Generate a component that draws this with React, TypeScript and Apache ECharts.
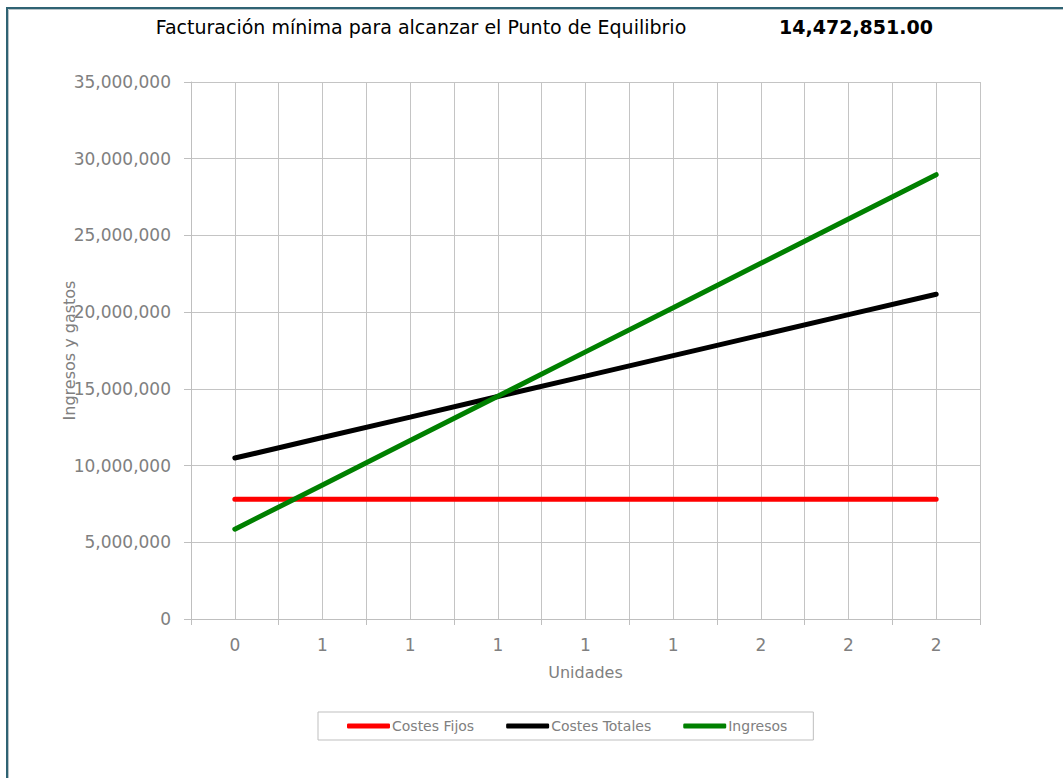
import React, { useEffect, useRef } from "react";
import * as echarts from "echarts";

const categories = ["0", "1", "1", "1", "1", "1", "2", "2", "2"];
const costesFijos = [7800000, 7800000, 7800000, 7800000, 7800000, 7800000, 7800000, 7800000, 7800000];
const costesTotales = [10490000, 11830000, 13160000, 14500000, 15830000, 17170000, 18500000, 19840000, 21170000];
const ingresos = [5850000, 8740000, 11630000, 14520000, 17410000, 20290000, 23180000, 26070000, 28960000];
const titleText = "Facturación mínima para alcanzar el Punto de Equilibrio";
const breakEvenText = "14,472,851.00";

const FONT = "'DejaVu Sans', sans-serif";
const GRAY = "#808080";
const GRID = "#c4c4c4";

function fmt(v: number) {
  return String(v).replace(/\B(?=(\d{3})+(?!\d))/g, ",");
}

export default function App() {
  const ref = useRef<HTMLDivElement>(null);
  useEffect(() => {
    if (!ref.current) return;
    const chart = echarts.init(ref.current, null, { renderer: "svg" });
    chart.setOption({
      animation: false,
      backgroundColor: "#ffffff",
      textStyle: { fontFamily: FONT },
      graphic: [
        {
          type: "polyline",
          shape: { points: [[7, 778], [7, 8], [1063, 8]] },
          style: { stroke: "#2f6373", lineWidth: 2, fill: "none" },
          silent: true,
        },
        {
          type: "polyline",
          shape: { points: [[8.5, 778], [8.5, 9.5], [1063, 9.5]] },
          style: { stroke: "#b8c4c8", lineWidth: 1, fill: "none" },
          silent: true,
        },
        {
          type: "text",
          x: 421,
          y: 27,
          style: {
            text: titleText,
            fontFamily: FONT,
            fontSize: 19,
            fill: "#000000",
            textAlign: "center",
            textVerticalAlign: "middle",
          },
        },
        {
          type: "text",
          x: 856,
          y: 27,
          style: {
            text: breakEvenText,
            fontFamily: FONT,
            fontSize: 19,
            fontWeight: "bold",
            fill: "#000000",
            textAlign: "center",
            textVerticalAlign: "middle",
          },
        },
      ],
      grid: { left: 191, right: 83, top: 82, bottom: 159, containLabel: false },
      legend: {
        left: 318,
        top: 712,
        padding: [7, 26, 7, 29],
        borderColor: "#bfbfbf",
        borderWidth: 1,
        itemWidth: 43,
        itemHeight: 5,
        itemGap: 32,
        icon: "roundRect",
        textStyle: { color: GRAY, fontSize: 14, fontFamily: FONT, padding: [0, 0, 0, -3] },
        data: ["Costes Fijos", "Costes Totales", "Ingresos"],
      },
      xAxis: [
        {
          type: "category",
          data: categories,
          boundaryGap: true,
          name: "Unidades",
          nameLocation: "middle",
          nameGap: 45,
          nameMoveOverlap: false,
          nameTextStyle: { color: GRAY, fontSize: 16, fontFamily: FONT },
          axisLine: { show: true, lineStyle: { color: "#bfbfbf", width: 1 } },
          axisTick: { show: true, length: 6, alignWithLabel: false, lineStyle: { color: "#bfbfbf" } },
          axisLabel: { color: GRAY, fontSize: 17, margin: 17, fontFamily: FONT },
          splitLine: { show: false },
        },
        {
          type: "value",
          min: 0,
          max: 18,
          interval: 1,
          position: "bottom",
          show: true,
          axisLine: { show: false },
          axisTick: { show: false },
          axisLabel: { show: false },
          splitLine: { show: true, lineStyle: { color: GRID, width: 1 } },
        },
      ],
      yAxis: {
        type: "value",
        min: 0,
        max: 35000000,
        interval: 5000000,
        name: "Ingresos y gastos",
        nameLocation: "middle",
        nameGap: 114,
        nameMoveOverlap: false,
        nameTextStyle: { color: GRAY, fontSize: 16, fontFamily: FONT },
        axisLine: { show: true, lineStyle: { color: "#bfbfbf", width: 1 } },
        axisTick: { show: true, length: 7, lineStyle: { color: "#bfbfbf" } },
        axisLabel: { color: GRAY, fontSize: 17, margin: 20, fontFamily: FONT, formatter: (v: number) => fmt(v) },
        splitLine: { show: true, lineStyle: { color: GRID, width: 1 } },
      },
      series: [
        {
          name: "Costes Fijos",
          type: "line",
          xAxisIndex: 0,
          data: costesFijos,
          showSymbol: false,
          symbol: "none",
          color: "#ff0000",
          lineStyle: { color: "#ff0000", width: 5, cap: "round" },
        },
        {
          name: "Costes Totales",
          type: "line",
          xAxisIndex: 0,
          data: costesTotales,
          showSymbol: false,
          symbol: "none",
          color: "#000000",
          lineStyle: { color: "#000000", width: 5, cap: "round" },
        },
        {
          name: "Ingresos",
          type: "line",
          xAxisIndex: 0,
          data: ingresos,
          showSymbol: false,
          symbol: "none",
          color: "#008000",
          lineStyle: { color: "#008000", width: 5, cap: "round" },
        },
      ],
    });
    return () => chart.dispose();
  }, []);
  return (
    <div
      ref={ref}
      style={{ position: "absolute", left: 0, top: 0, width: 1063, height: 778 }}
    />
  );
}
